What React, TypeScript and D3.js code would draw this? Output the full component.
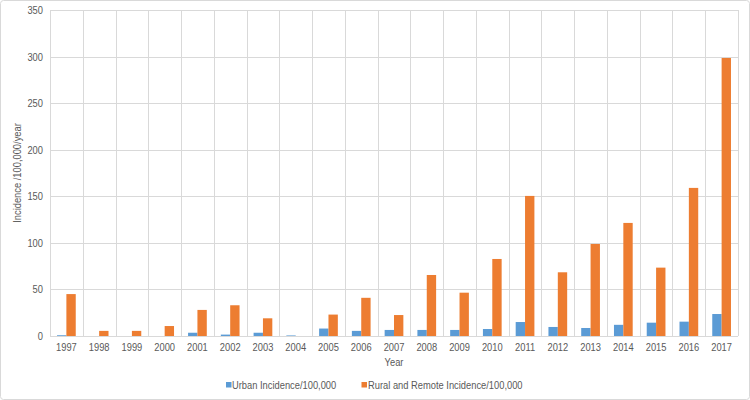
import React from "react";
import * as d3 from "d3";

const years = ["1997","1998","1999","2000","2001","2002","2003","2004","2005","2006","2007","2008","2009","2010","2011","2012","2013","2014","2015","2016","2017"];
const urban = [0.8,0,0,0,3.5,1.5,3.5,0.6,8,5.5,6.5,6.5,6.5,7.5,15,9.7,8.6,12,14.3,15.4,23.6];
const rural = [45,5.5,5.5,10.7,28,33,19,0,23,41,22.5,65.5,46.5,82.7,150.4,68.4,98.8,121.4,73.4,159,298.5];
const yTicks = [0,50,100,150,200,250,300,350];
const seriesNames = ["Urban Incidence/100,000", "Rural and Remote Incidence/100,000"];
const colors = ["#5b9bd5", "#ed7d31"];

const SX = 0.89;
const txt = "#595959";

function T({ x, y, anchor = "start", rotate = 0, children }: { x: number; y: number; anchor?: string; rotate?: number; children: React.ReactNode }) {
  return (
    <text
      transform={`translate(${x},${y}) rotate(${rotate}) scale(${SX},1)`}
      textAnchor={anchor}
      fontSize={10.5}
      fill={txt}
    >
      {children}
    </text>
  );
}

export default function App() {
  const W = 750, H = 400;
  const left = 50, right = 738, top = 10, bottom = 336;
  const x = d3.scaleBand().domain(years).range([left, right]).paddingInner(0).paddingOuter(0);
  const y = d3.scaleLinear().domain([0, 350]).range([bottom, top]);
  const bw = x.bandwidth();
  const barW = bw / 3.5;
  const font = "'Liberation Sans', Arial, sans-serif";
  const grid = "#d9d9d9";
  return (
    <svg width={W} height={H} style={{ position: "absolute", left: 0, top: 0, background: "#fff" }} fontFamily={font}>
      <rect x={0.5} y={0.5} width={W - 1} height={H - 1} fill="#fff" stroke={grid} rx={3} />
      {yTicks.map(t => (
        <g key={t}>
          <line x1={left} x2={right} y1={Math.round(y(t)) + 0.5} y2={Math.round(y(t)) + 0.5} stroke={grid} strokeWidth={1} />
          <T x={43} y={y(t) + 4} anchor="end">{t}</T>
        </g>
      ))}
      {years.map((yr) => (
        <line key={"v" + yr} x1={Math.round(x(yr)!) + 0.5} x2={Math.round(x(yr)!) + 0.5} y1={top} y2={bottom} stroke={grid} />
      ))}
      <line x1={right + 0.5} x2={right + 0.5} y1={top} y2={bottom} stroke={grid} />
      {years.map((yr, i) => {
        const cx = x(yr)! + bw / 2;
        return (
          <g key={yr}>
            <rect x={cx - barW} y={y(urban[i])} width={barW} height={bottom - y(urban[i])} fill={colors[0]} />
            <rect x={cx} y={y(rural[i])} width={barW} height={bottom - y(rural[i])} fill={colors[1]} />
            <T x={cx} y={351} anchor="middle">{yr}</T>
          </g>
        );
      })}
      <line x1={left} x2={right} y1={bottom + 0.5} y2={bottom + 0.5} stroke={grid} />
      <T x={(left + right) / 2} y={366} anchor="middle">Year</T>
      <T x={21} y={173} anchor="middle" rotate={-90}>Incidence /100,000/year</T>
      <rect x={226} y={382} width={5.5} height={5.5} fill={colors[0]} />
      <T x={232} y={389}>{seriesNames[0]}</T>
      <rect x={361.5} y={382} width={5.5} height={5.5} fill={colors[1]} />
      <T x={368} y={389}>{seriesNames[1]}</T>
    </svg>
  );
}
